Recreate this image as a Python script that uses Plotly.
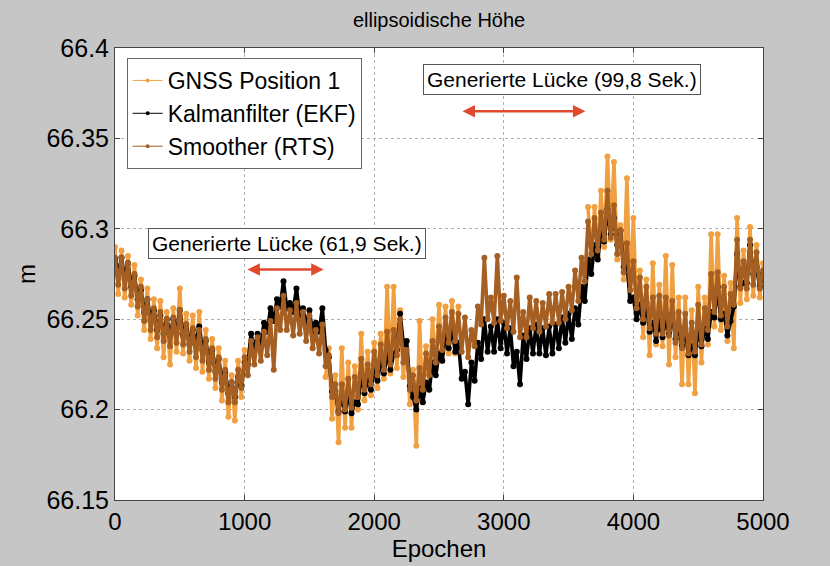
import plotly.graph_objects as go

# ---------------- data ----------------
epochs = list(range(0, 5001, 25))

gnss = [
    66.290, 66.264, 66.288, 66.262,
    66.285, 66.258, 66.280, 66.252,
    66.272, 66.244, 66.267, 66.239,
    66.261, 66.234, 66.260, 66.229,
    66.254, 66.225, 66.256, 66.232,
    66.267, 66.231, 66.253, 66.227,
    66.252, 66.223, 66.254, 66.221,
    66.244, 66.217, 66.239, 66.212,
    66.234, 66.205, 66.227, 66.196,
    66.219, 66.194, 66.227, 66.207,
    66.233, None, None, None,
    None, None, None, None,
    None, None, None, None,
    None, None, None, None,
    None, None, None, None,
    None, None, None, None,
    None, 66.218, 66.234, 66.195,
    66.219, 66.182, 66.234, 66.190,
    66.226, 66.190, 66.224, 66.200,
    66.242, 66.205, 66.232, 66.208,
    66.237, 66.212, 66.242, 66.217,
    66.268, 66.220, 66.268, 66.223,
    66.255, 66.218, 66.238, 66.203,
    66.222, 66.180, 66.249, 66.204,
    66.235, 66.212, 66.250, 66.222,
    66.258, 66.227, 66.257, 66.231,
    66.260, 66.231, 66.257, None,
    None, None, None, None,
    None, None, None, None,
    None, None, None, None,
    None, None, None, None,
    None, None, None, None,
    None, None, None, None,
    None, None, None, None,
    None, None, None, None,
    None, None, None, None,
    None, None, 66.312, 66.282,
    66.312, 66.285, 66.321, 66.290,
    66.340, 66.294, 66.337, 66.283,
    66.302, 66.272, 66.328, 66.262,
    66.306, 66.252, 66.277, 66.240,
    66.272, 66.230, 66.281, 66.236,
    66.269, 66.235, 66.285, 66.225,
    66.280, 66.229, 66.262, 66.214,
    66.262, 66.214, 66.255, 66.209,
    66.268, 66.226, 66.262, 66.236,
    66.297, 66.246, 66.297, 66.244,
    66.274, 66.238, 66.270, 66.234,
    66.306, 66.259, 66.288, 66.261,
    66.301, 66.263, 66.291, 66.262,
    66.281,
]

ekf = [
    66.283, 66.275, 66.284, 66.272,
    66.281, 66.268, 66.274, 66.261,
    66.266, 66.254, 66.261, 66.249,
    66.255, 66.244, 66.252, 66.242,
    66.250, 66.241, 66.250, 66.242,
    66.255, 66.241, 66.247, 66.236,
    66.244, 66.236, 66.246, 66.233,
    66.238, 66.226, 66.233, 66.221,
    66.228, 66.215, 66.221, 66.209,
    66.215, 66.207, 66.218, 66.213,
    66.226, 66.225, 66.242, 66.233,
    66.242, 66.236, 66.248, 66.243,
    66.256, 66.249, 66.261, 66.257,
    66.271, 66.256, 66.259, 66.254,
    66.267, 66.252, 66.256, 66.246,
    66.255, 66.242, 66.248, 66.243,
    66.256, 66.233, 66.229, 66.210,
    66.210, 66.199, 66.207, 66.199,
    66.210, 66.198, 66.204, 66.203,
    66.220, 66.209, 66.217, 66.211,
    66.223, 66.216, 66.227, 66.220,
    66.231, 66.222, 66.231, 66.233,
    66.253, 66.236, 66.238, 66.213,
    66.207, 66.200, 66.212, 66.204,
    66.215, 66.211, 66.226, 66.219,
    66.231, 66.227, 66.241, 66.234,
    66.245, 66.232, 66.237, 66.217,
    66.221, 66.203, 66.226, 66.216,
    66.237, 66.228, 66.250, 66.232,
    66.246, 66.232, 66.250, 66.234,
    66.248, 66.231, 66.245, 66.224,
    66.232, 66.214, 66.241, 66.228,
    66.245, 66.231, 66.247, 66.231,
    66.245, 66.230, 66.246, 66.231,
    66.247, 66.234, 66.251, 66.237,
    66.253, 66.239, 66.256, 66.247,
    66.268, 66.260, 66.283, 66.275,
    66.291, 66.283, 66.298, 66.293,
    66.311, 66.297, 66.306, 66.291,
    66.299, 66.279, 66.281, 66.260,
    66.262, 66.250, 66.258, 66.248,
    66.259, 66.243, 66.248, 66.238,
    66.249, 66.240, 66.251, 66.242,
    66.253, 66.239, 66.246, 66.235,
    66.245, 66.230, 66.235, 66.230,
    66.245, 66.235, 66.245, 66.239,
    66.254, 66.251, 66.268, 66.250,
    66.253, 66.241, 66.249, 66.257,
    66.286, 66.268, 66.270, 66.270,
    66.291, 66.275, 66.279, 66.268,
    66.275,
]

rts = [
    66.284, 66.269, 66.284, 66.267,
    66.281, 66.263, 66.275, 66.257,
    66.268, 66.249, 66.261, 66.244,
    66.256, 66.240, 66.254, 66.238,
    66.250, 66.235, 66.251, 66.237,
    66.255, 66.236, 66.247, 66.232,
    66.245, 66.229, 66.244, 66.227,
    66.239, 66.222, 66.234, 66.217,
    66.229, 66.211, 66.222, 66.204,
    66.215, 66.204, 66.222, 66.212,
    66.229, 66.219, 66.238, 66.225,
    66.240, 66.227, 66.243, 66.230,
    66.249, 66.222, 66.256, 66.244,
    66.263, 66.244, 66.255, 66.241,
    66.259, 66.242, 66.254, 66.238,
    66.252, 66.234, 66.244, 66.231,
    66.247, 66.224, 66.230, 66.207,
    66.214, 66.198, 66.214, 66.200,
    66.217, 66.201, 66.218, 66.207,
    66.228, 66.211, 66.225, 66.214,
    66.232, 66.219, 66.236, 66.222,
    66.243, 66.225, 66.244, 66.230,
    66.250, 66.226, 66.233, 66.211,
    66.219, 66.205, 66.223, 66.211,
    66.231, 66.219, 66.238, 66.226,
    66.246, 66.233, 66.251, 66.237,
    66.254, 66.238, 66.253, 66.232,
    66.251, 66.229, 66.244, 66.235,
    66.257, 66.247, 66.284, 66.250,
    66.262, 66.248, 66.285, 66.249,
    66.263, 66.245, 66.260, 66.243,
    66.273, 66.240, 66.254, 66.240,
    66.262, 66.245, 66.260, 66.243,
    66.259, 66.246, 66.264, 66.248,
    66.264, 66.248, 66.265, 66.250,
    66.268, 66.255, 66.277, 66.260,
    66.284, 66.271, 66.304, 66.286,
    66.306, 66.288, 66.309, 66.294,
    66.321, 66.295, 66.313, 66.286,
    66.299, 66.276, 66.292, 66.266,
    66.282, 66.256, 66.273, 66.250,
    66.268, 66.245, 66.262, 66.242,
    66.263, 66.242, 66.262, 66.241,
    66.260, 66.237, 66.254, 66.234,
    66.253, 66.231, 66.248, 66.232,
    66.258, 66.236, 66.256, 66.244,
    66.275, 66.254, 66.276, 66.252,
    66.268, 66.246, 66.264, 66.258,
    66.294, 66.267, 66.282, 66.267,
    66.294, 66.269, 66.287, 66.267,
    66.277,
]

series_names = ["GNSS Position 1", "Kalmanfilter (EKF)", "Smoother (RTS)"]
gap1 = [1010, 1610]
gap2 = [2670, 3630]
gap_labels = ["Generierte Lücke (61,9 Sek.)", "Generierte Lücke (99,8 Sek.)"]
x_ticks = [0, 1000, 2000, 3000, 4000, 5000]
y_ticks = [66.15, 66.2, 66.25, 66.3, 66.35, 66.4]
y_ticktext = ["66.15", "66.2", "66.25", "66.3", "66.35", "66.4"]

# ---------------- figure ----------------
colors = ["#F0A040", "#000000", "#A65F22"]
fig = go.Figure()
for name, vals, col in zip(series_names, [gnss, ekf, rts], colors):
    fig.add_trace(go.Scatter(
        x=epochs, y=vals, name=name, mode="lines+markers",
        line=dict(color=col, width=3.6),
        marker=dict(color=col, size=6),
        showlegend=False,
    ))
# legend entries drawn with thin line + small dot (as in the original)
for name, col in zip(series_names, colors):
    fig.add_trace(go.Scatter(
        x=[None], y=[None], name=name, mode="lines+markers",
        line=dict(color=col, width=1), marker=dict(color=col, size=4),
    ))

FONT = "Liberation Sans, Arial, Helvetica, sans-serif"
fig.update_layout(
    width=830, height=566,
    paper_bgcolor="#C6C6C6", plot_bgcolor="white",
    margin=dict(l=115, r=67, t=48, b=58),
    font=dict(family=FONT, color="black"),
    title=dict(text="ellipsoidische Höhe", x=0.529, xanchor="center",
               y=0.965, yanchor="middle", font=dict(size=20, family=FONT)),
    showlegend=True,
    legend=dict(x=0.018, y=0.978, xanchor="left", yanchor="top",
                bgcolor="white", bordercolor="#666666", borderwidth=1,
                font=dict(size=23, family=FONT), tracegroupgap=0,
                itemwidth=30),
)
fig.update_xaxes(
    range=[0, 5000], tickvals=x_ticks, ticks="inside", ticklen=5,
    tickcolor="#444", showline=True, linecolor="#444", linewidth=1,
    mirror="ticks", showgrid=True, gridcolor="#B0B0B0", griddash="dot",
    zeroline=False, tickfont=dict(size=24),
    title=dict(text="Epochen", font=dict(size=24), standoff=2),
)
fig.update_yaxes(
    range=[66.15, 66.4], tickvals=y_ticks, ticktext=y_ticktext,
    ticks="inside", ticklen=5, tickcolor="#444", showline=True,
    linecolor="#444", linewidth=1, mirror="ticks", showgrid=True,
    gridcolor="#B0B0B0", griddash="dot", zeroline=False,
    tickfont=dict(size=25),
    title=dict(text="m", font=dict(size=24), standoff=4),
)

label_pos = [(1330, 66.292), (3450, 66.3826)]
arrow_y = [66.2775, 66.365]
annots = []
for g, (lx, ly), yarr, label in zip([gap1, gap2], label_pos, arrow_y, gap_labels):
    annots.append(dict(
        x=lx, y=ly, xref="x", yref="y", text=label, showarrow=False,
        font=dict(size=21, family=FONT), bgcolor="white",
        bordercolor="#555555", borderwidth=1, borderpad=3,
    ))
    annots.append(dict(
        x=g[1], y=yarr, ax=g[0], ay=yarr, xref="x", yref="y",
        axref="x", ayref="y", text="", showarrow=True,
        arrowhead=2, startarrowhead=2, arrowside="end+start",
        arrowsize=1, startarrowsize=1, arrowwidth=2.5,
        arrowcolor="#E04A30",
    ))
fig.update_layout(annotations=annots)

fig.write_html("out.html")
